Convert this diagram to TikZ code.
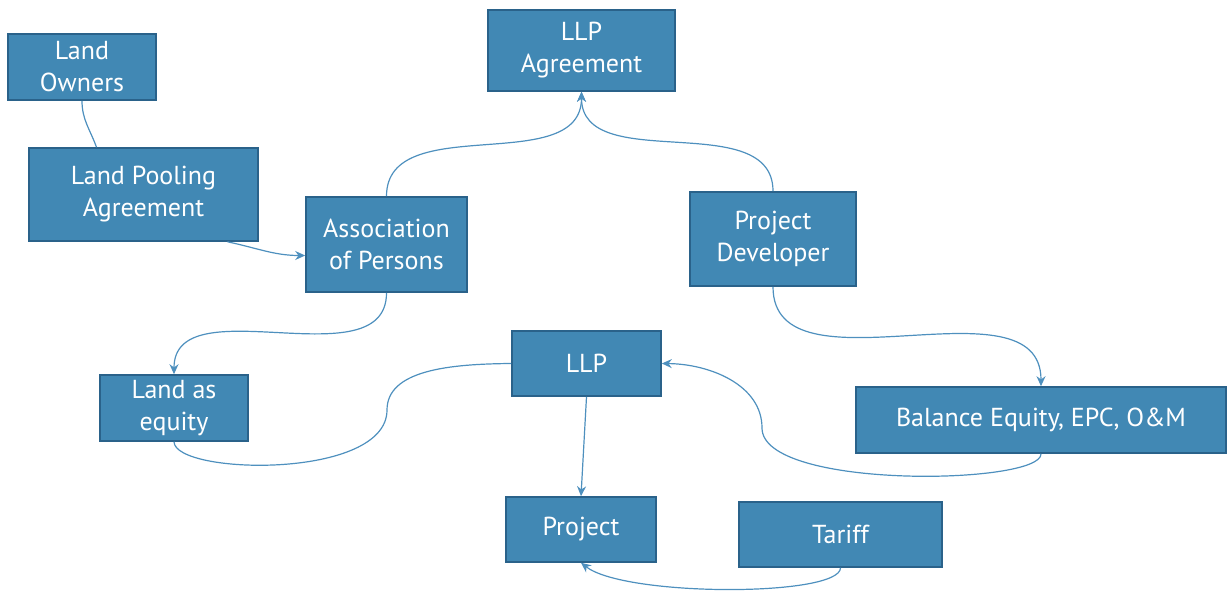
\documentclass[tikz,border=0pt]{standalone}
\usepackage{fontspec}
\setmainfont{PT Sans}
\usetikzlibrary{arrows.meta}
\definecolor{boxfill}{RGB}{65,136,180}
\definecolor{boxborder}{RGB}{42,98,138}
\definecolor{linkcol}{RGB}{78,144,190}
\tikzset{
  box/.style={draw=boxborder, line width=1.6pt, fill=boxfill, text=white, align=center,
    inner sep=0pt, font=\fontsize{26}{32}\selectfont},
  link/.style={draw=linkcol, line width=1.2pt},
  arr/.style={link, -{Stealth[length=10pt,width=9pt]}}
}
\begin{document}
\begin{tikzpicture}[x=1pt,y=-1pt]
\useasboundingbox (0,0) rectangle (1228,593);
\node[box, minimum width=148pt, minimum height=66pt] (lo) at (82,67) {Land\\Owners};
\node[box, minimum width=229pt, minimum height=93pt] (lpa) at (143.5,194.5) {Land Pooling\\Agreement};
\node[box, minimum width=187pt, minimum height=81pt] (llpa) at (581.5,50.5) {LLP\\Agreement};
\node[box, minimum width=161pt, minimum height=95pt] (aop) at (386.5,244.5) {Association\\of Persons};
\node[box, minimum width=166pt, minimum height=94pt] (pd) at (773,239) {Project\\Developer};
\node[box, minimum width=149pt, minimum height=65pt] (llp) at (586.5,363.5) {LLP};
\node[box, minimum width=148pt, minimum height=66pt] (lae) at (174,408) {Land as\\equity};
\node[box, minimum width=370pt, minimum height=66pt] (be) at (1041,420) {Balance Equity, EPC, O\&M};
\node[box, minimum width=150pt, minimum height=65pt] (proj) at (581,529.5) {Project};
\node[box, minimum width=203pt, minimum height=65pt] (tar) at (840.5,534.5) {Tariff};

\coordinate (m1) at (387,410);
\coordinate (m2) at (762,428);

\draw[link] (lo.south) to[out=-90,in=110] ([xshift=-47pt]lpa.north);
\draw[arr] ([xshift=84pt]lpa.south) to[out=-12,in=180] ([yshift=-11pt]aop.west);
\draw[arr] (aop.north) to[out=90,in=-90] (llpa.south);
\draw[arr] (pd.north) to[out=90,in=-90] (llpa.south);
\draw[arr] (aop.south) to[out=-90,in=90] (lae.north);
\draw[arr] (pd.south) to[out=-90,in=90] (be.north);
\draw[link] (lae.south) .. controls (175,475) and (387,480) .. (m1)
  .. controls (387,370) and (450,364) .. (llp.west);
\draw[arr] (be.south) .. controls (1042,485) and (762,490) .. (m2)
  .. controls (762,385) and (710,364) .. (llp.east);
\draw[arr] (llp.south) -- (proj.north);
\draw[arr] (tar.south) .. controls (840,597) and (625,597) .. (proj.south);
\end{tikzpicture}
\end{document}
